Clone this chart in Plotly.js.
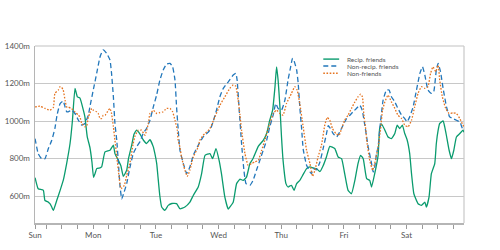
<!DOCTYPE html>
<html>
<head>
<meta charset="utf-8">
<script src="https://cdn.plot.ly/plotly-3.0.1.min.js"></script>
<style>html,body{margin:0;padding:0;background:#fff;}#chart{width:500px;height:250px;}</style>
</head>
<body>
<div id="chart"></div>
<script>
// Hours since Sunday 00:00
const hoursRecip = [1.7,2.9,4.2,4.9,5.5,6.8,7.4,8.1,8.7,10.0,11.3,12.5,13.8,15.1,16.0,17.0,17.9,18.9,20.2,20.8,21.7,22.7,23.5,24.1,24.7,25.3,26.6,27.2,28.5,30.4,31.7,32.3,33.6,34.6,35.5,36.8,37.5,38.7,39.6,40.6,41.9,43.1,44.4,45.7,47.0,47.6,48.3,48.8,49.5,50.2,51.4,52.7,54.1,55.9,57.2,59.1,61.0,62.3,64.2,65.5,66.8,68.7,69.7,71.0,72.2,73.1,74.4,75.7,76.3,77.6,78.9,80.2,81.4,82.7,84.0,85.2,87.2,89.1,90.4,91.6,92.7,93.6,94.2,94.8,95.5,96.1,96.7,97.8,98.6,99.9,100.9,101.9,103.1,104.4,105.7,107.0,108.2,109.5,110.8,112.0,113.3,114.6,116.5,117.8,119.1,120.3,121.6,122.9,124.2,125.4,126.4,127.4,128.7,129.9,130.6,131.8,133.1,133.7,134.4,135.7,136.9,138.2,139.5,140.4,141.4,142.4,143.3,144.2,145.2,145.9,146.8,148.4,149.7,151.0,151.6,152.6,153.5,154.8,155.4,156.1,156.7,158.0,158.6,159.3,160.3,161.2,162.1,163.1,164.4,165.6,166.0];
const recip = [698,639,634,630,576,567,559,541,523,576,630,683,773,880,1000,1174,1129,1122,1058,1022,915,860,780,700,720,746,750,755,835,844,871,826,790,760,705,737,800,870,930,951,930,900,880,900,862,826,773,700,600,541,523,550,560,559,532,541,567,603,648,719,817,826,799,853,790,719,594,530,541,567,666,690,683,701,773,800,865,897,933,1004,1058,1182,1289,1218,1075,915,790,666,648,657,630,666,683,715,746,755,750,746,730,760,808,865,853,808,799,719,630,612,683,773,817,799,693,683,648,719,817,960,985,951,915,906,933,978,960,978,933,900,826,719,612,559,550,567,541,594,719,773,880,951,987,1001,970,920,844,799,844,915,933,951,940];

const hoursNonRecip = [1.7,2.9,4.2,5.5,6.8,8.1,9.3,10.1,11.3,12.5,13.2,13.8,14.4,15.7,17.0,18.3,19.6,20.8,22.1,22.7,24.0,25.3,26.6,27.8,29.1,30.4,31.0,31.7,32.3,33.0,33.6,34.2,34.9,35.8,36.8,38.0,39.3,40.6,41.9,43.1,44.4,45.7,47.0,48.3,49.5,50.8,52.1,53.4,54.4,55.3,55.9,56.5,57.2,58.5,59.8,61.0,62.3,64.2,66.1,66.8,68.7,69.9,71.2,72.5,73.8,75.7,77.6,78.6,79.1,79.9,80.8,81.7,82.5,84.0,85.2,86.5,87.8,89.1,90.4,91.6,92.9,93.9,94.8,96.1,97.4,98.6,99.6,100.3,100.8,101.9,102.5,103.1,103.8,104.4,105.7,107.0,107.6,108.2,109.5,110.8,112.0,113.3,114.0,114.6,115.9,117.2,118.4,119.7,121.0,122.3,123.5,124.8,126.1,127.0,127.7,128.7,129.3,130.6,131.2,131.8,132.5,133.1,133.7,135.0,136.3,137.3,138.2,139.5,140.7,142.1,143.3,144.2,145.2,146.5,147.8,149.1,150.1,151.0,152.2,153.5,154.4,155.4,156.1,157.0,158.0,159.3,160.5,161.8,163.1,164.4,165.4,166.0];
const nonRecip = [906,826,799,799,853,897,960,1030,1093,1106,1075,1050,1049,1058,1040,1004,978,987,1031,1075,1165,1254,1343,1379,1361,1325,1254,1129,987,897,780,660,585,620,666,750,826,862,890,933,960,1004,1075,1140,1218,1272,1304,1307,1289,1218,1075,960,844,773,719,755,817,871,915,924,951,996,1058,1129,1174,1209,1245,1254,1218,1058,880,737,666,657,683,737,790,844,897,969,1031,1093,1067,1058,1111,1218,1289,1334,1325,1272,1200,1075,960,850,764,728,719,746,740,780,850,930,975,965,933,915,942,978,1013,1031,1049,1067,1084,1058,1004,915,862,773,728,755,826,860,950,1110,1165,1165,1129,1102,1067,1031,1013,996,1022,1075,1165,1254,1289,1245,1165,1147,1156,1272,1307,1263,1174,1075,1022,1013,1004,996,960,951];

const hoursNonFriends = [1.7,3.6,5.5,7.4,8.7,9.3,10.6,11.3,11.9,12.5,13.2,13.8,14.4,15.7,17.0,18.3,18.9,19.6,20.2,20.8,21.5,22.1,22.7,23.4,24.0,25.3,25.9,26.6,27.2,27.8,28.5,29.7,30.4,31.0,31.7,32.3,33.0,33.6,34.6,35.9,36.8,38.0,39.3,40.0,41.2,42.5,43.8,45.1,45.7,46.4,47.0,48.3,49.5,50.8,51.4,52.1,52.7,53.4,54.4,55.3,56.2,56.5,57.2,57.8,59.1,60.0,61.0,62.3,64.2,64.8,66.1,66.8,68.7,70.6,72.5,74.4,76.3,77.6,78.6,79.5,80.2,80.8,82.1,83.3,84.6,85.9,87.2,88.5,89.7,91.6,92.9,94.2,95.5,96.7,98.0,99.9,101.2,102.1,103.1,104.4,105.7,107.0,108.0,108.9,110.1,111.4,112.7,113.6,114.6,115.6,116.9,118.2,119.1,120.3,121.6,122.9,124.2,125.4,126.4,127.1,127.6,128.4,128.7,129.9,131.0,131.8,133.1,134.0,134.8,135.7,136.9,138.2,139.5,140.7,142.1,143.3,144.6,145.9,147.1,148.4,149.7,151.0,152.2,153.2,154.1,155.2,156.1,156.7,157.7,159.0,160.3,161.8,163.1,164.4,165.6,166.0];
const nonFriends = [1075,1079,1067,1058,1072,1147,1165,1183,1179,1165,1110,1075,1075,1065,1049,1031,1022,985,978,969,975,1022,1040,1067,1058,1049,1040,1013,1013,1031,1031,1055,1067,1040,970,897,810,737,639,657,710,773,880,920,951,951,924,987,1040,1049,1058,1040,1045,1049,1058,1067,1067,1067,1049,1004,951,897,860,808,737,705,737,808,862,897,924,933,960,1022,1084,1129,1174,1192,1186,1111,1030,951,826,764,773,782,790,844,897,987,1040,1058,1040,1031,1093,1147,1183,1165,1093,969,844,773,705,737,808,870,980,1019,1004,960,933,924,960,1004,1031,1067,1102,1129,1143,1129,1040,951,900,790,737,773,862,951,1058,1102,1138,1102,1067,1031,1013,978,969,1004,1075,1147,1183,1174,1183,1254,1289,1263,1298,1218,1129,1067,1040,1044,1040,1013,978,970];

const seriesNames = ['Recip. friends','Non-recip. friends','Non-friends'];
const seriesColors = ['#0a9b6e','#2277bb','#e5731f'];
const dayNames = ['Sun','Mon','Tue','Wed','Thu','Fri','Sat'];
const yTicks = [600,800,1000,1200,1400];
const yTickLabels = ['600m','800m','1000m','1200m','1400m'];
const xRange = [1.68, 166.0];
const yRange = [456, 1400];

// ticks every 6 hours, day names at midnight; first label at axis start
const tickvals = [xRange[0]];
const ticktext = [dayNames[0]];
for (let h = 6; h < xRange[1]; h += 6) {
  tickvals.push(h);
  ticktext.push(h % 24 === 0 ? dayNames[h / 24] : '');
}

const dashes = ['solid','5px,3px','1.6px,1.6px'];
const xs = [hoursRecip, hoursNonRecip, hoursNonFriends];
const ys = [recip, nonRecip, nonFriends];
const traces = xs.map((x, i) => ({
  x: x, y: ys[i], type: 'scatter', mode: 'lines', name: seriesNames[i],
  line: {color: seriesColors[i], width: 1.3, dash: dashes[i], shape: 'spline', smoothing: 0.4},
  hoverinfo: 'skip'
}));

// manual legend
const legShapes = [], legAnn = [];
const legY = [0.926, 0.887, 0.846];
for (let i = 0; i < 3; i++) {
  legShapes.push({type: 'line', xref: 'paper', yref: 'paper', x0: 0.672, x1: 0.709, y0: legY[i], y1: legY[i],
    line: {color: seriesColors[i], width: 1.4, dash: dashes[i]}});
  legAnn.push({xref: 'paper', yref: 'paper', x: 0.722, y: legY[i], xanchor: 'left', yanchor: 'middle',
    text: seriesNames[i], showarrow: false, font: {size: 6.5, color: '#555', family: 'Lato, sans-serif'}});
}
// top & right frame
legShapes.push({type: 'line', xref: 'paper', yref: 'paper', x0: 0, x1: 1, y0: 1, y1: 1, line: {color: '#d6d6d6', width: 1.5}, layer: 'below'});
legShapes.push({type: 'line', xref: 'paper', yref: 'paper', x0: 1, x1: 1, y0: 0, y1: 1, line: {color: '#c8c8c8', width: 1.2}, layer: 'below'});

const layout = {
  width: 500, height: 250,
  margin: {l: 35, r: 36, t: 46, b: 27},
  paper_bgcolor: '#fff', plot_bgcolor: '#fff',
  showlegend: false,
  font: {family: 'Lato, sans-serif', size: 8, color: '#555'},
  xaxis: {
    range: xRange, tickmode: 'array', tickvals: tickvals, ticktext: ticktext,
    ticks: 'outside', ticklen: 4, tickwidth: 1, tickcolor: '#999',
    showline: true, linecolor: '#b5b5b5', linewidth: 1.5,
    showgrid: false, zeroline: false, tickfont: {size: 8, color: '#555'}
  },
  yaxis: {
    range: yRange, tickmode: 'array', tickvals: yTicks, ticktext: yTickLabels,
    ticks: '', showline: true, linecolor: '#b5b5b5', linewidth: 1.5,
    showgrid: true, gridcolor: '#c8c8c8', gridwidth: 1, zeroline: false,
    tickfont: {size: 8, color: '#555'}, ticklabelstandoff: 2
  },
  shapes: legShapes,
  annotations: legAnn
};

Plotly.newPlot('chart', traces, layout, {staticPlot: true, displayModeBar: false});
</script>
</body>
</html>
